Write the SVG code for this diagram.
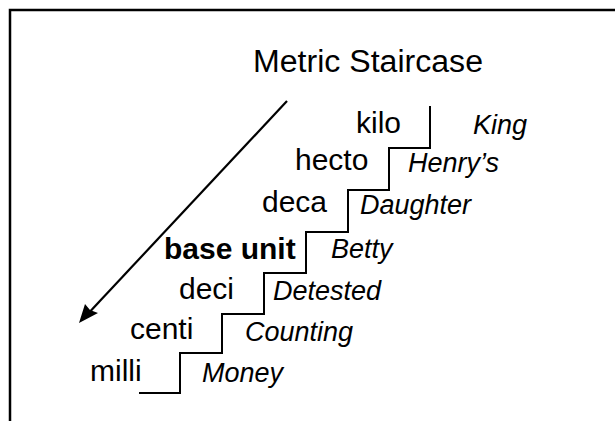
<svg xmlns="http://www.w3.org/2000/svg" width="615" height="421" viewBox="0 0 615 421">
<defs>
<style>
.t{font-family:"Liberation Sans",Arial,sans-serif;fill:#000}
.p{font-size:30px}
.b{font-size:30px;font-weight:bold}
.i{font-size:27px;font-style:italic}
.ln{fill:none;stroke:#000;stroke-width:2}
</style>
</defs>
<rect width="615" height="421" fill="#fff"/>
<path d="M10,425 V10 H620" fill="none" stroke="#000" stroke-width="2.5"/>
<g id="title"><text class="t" x="253" y="72" style="font-size:31px" textLength="230" lengthAdjust="spacingAndGlyphs">Metric Staircase</text></g>
<g id="connectors">
<path class="ln" d="M430,106 V148 H389 V190 H348 V232 H306 V273 H264 V314 H222 V353 H180 V393 H139"/>
<line x1="287" y1="101" x2="84" y2="318" stroke="#000" stroke-width="2.2"/>
<path d="M79,323 L85,304 L90,310 L98,313 Z" fill="#000"/>
</g>
<g id="kilo"><text class="t p" x="356" y="133">kilo</text><text class="t i" x="473" y="134">King</text></g>
<g id="hecto"><text class="t p" x="295" y="170">hecto</text><text class="t i" x="408" y="172">Henry’s</text></g>
<g id="deca"><text class="t p" x="262" y="212">deca</text><text class="t i" x="360" y="214">Daughter</text></g>
<g id="base"><text class="t b" x="164" y="259">base unit</text><text class="t i" x="331" y="258">Betty</text></g>
<g id="deci"><text class="t p" x="179" y="299">deci</text><text class="t i" x="273" y="300">Detested</text></g>
<g id="centi"><text class="t p" x="130" y="339">centi</text><text class="t i" x="245" y="341">Counting</text></g>
<g id="milli"><text class="t p" x="90" y="381">milli</text><text class="t i" x="202" y="382">Money</text></g>
</svg>
